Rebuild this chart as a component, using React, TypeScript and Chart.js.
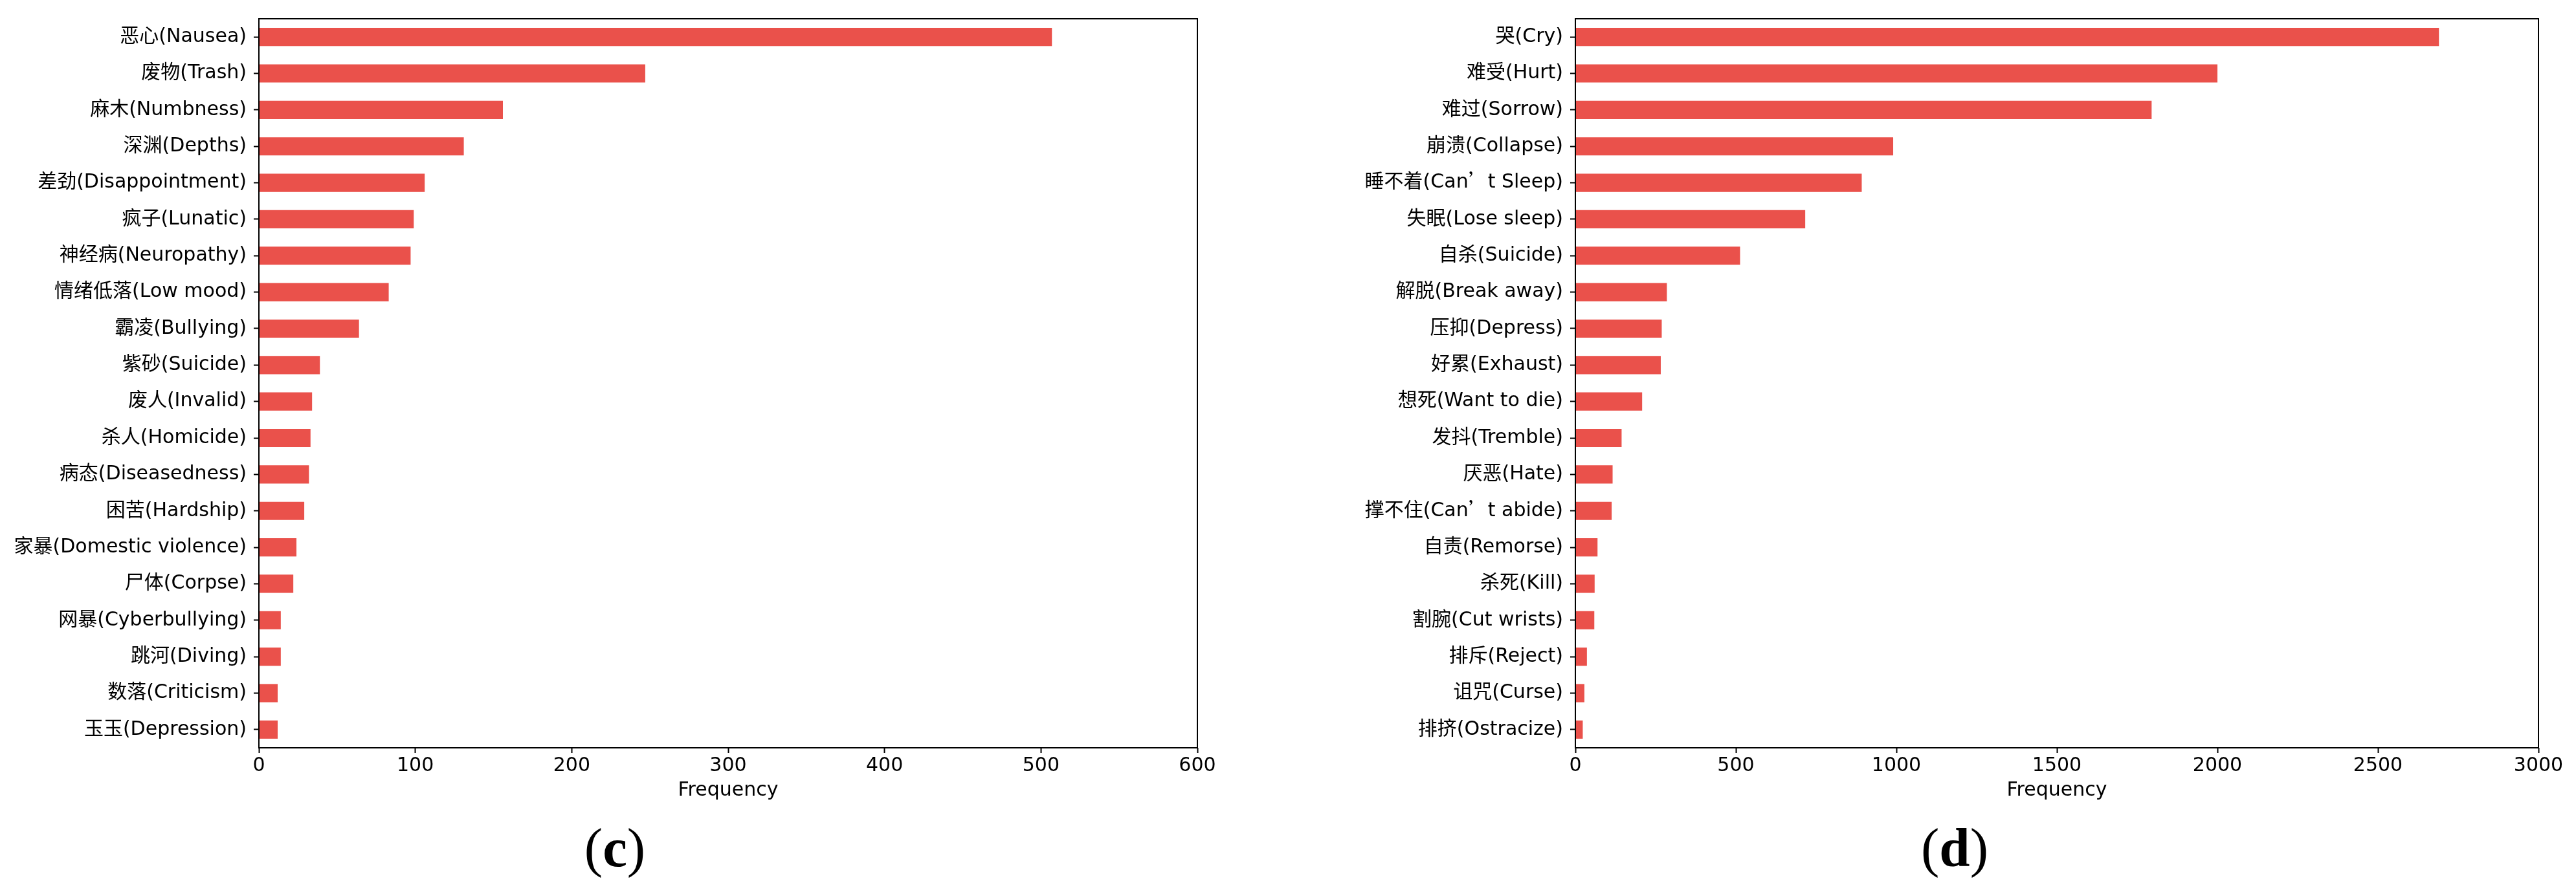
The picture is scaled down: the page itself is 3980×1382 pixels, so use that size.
import React, { useEffect, useRef } from "react";
import { Chart, registerables } from "chart.js";

Chart.register(...registerables);

// ---------- data ----------
const leftCategories = [
  "恶心(Nausea)",
  "废物(Trash)",
  "麻木(Numbness)",
  "深渊(Depths)",
  "差劲(Disappointment)",
  "疯子(Lunatic)",
  "神经病(Neuropathy)",
  "情绪低落(Low mood)",
  "霸凌(Bullying)",
  "紫砂(Suicide)",
  "废人(Invalid)",
  "杀人(Homicide)",
  "病态(Diseasedness)",
  "困苦(Hardship)",
  "家暴(Domestic violence)",
  "尸体(Corpse)",
  "网暴(Cyberbullying)",
  "跳河(Diving)",
  "数落(Criticism)",
  "玉玉(Depression)",
];
const leftValues = [507, 247, 156, 131, 106, 99, 97, 83, 64, 39, 34, 33, 32, 29, 24, 22, 14, 14, 12, 12];
const leftAxisMax = 600;
const leftAxisStep = 100;

const rightCategories = [
  "哭(Cry)",
  "难受(Hurt)",
  "难过(Sorrow)",
  "崩溃(Collapse)",
  "睡不着(Can’t Sleep)",
  "失眠(Lose sleep)",
  "自杀(Suicide)",
  "解脱(Break away)",
  "压抑(Depress)",
  "好累(Exhaust)",
  "想死(Want to die)",
  "发抖(Tremble)",
  "厌恶(Hate)",
  "撑不住(Can’t abide)",
  "自责(Remorse)",
  "杀死(Kill)",
  "割腕(Cut wrists)",
  "排斥(Reject)",
  "诅咒(Curse)",
  "排挤(Ostracize)",
];
const rightValues = [2690, 2000, 1795, 990, 892, 716, 513, 285, 269, 266, 208, 144, 116, 113, 69, 60, 59, 36, 28, 23];
const rightAxisMax = 3000;
const rightAxisStep = 500;

const axisTitle = "Frequency";
const captions = ["c", "d"];

// ---------- style ----------
const BAR_COLOR = "rgb(234,81,75)";
const FONT_FAMILY = '"QuoteCJK", "DejaVu Sans", "Noto Sans CJK SC", sans-serif';
const FONT_SIZE = 30;
const CANVAS_W = 1990;
const CANVAS_H = 1382;

const framePlugin = {
  id: "frame",
  afterDraw(chart: any) {
    const { ctx, chartArea } = chart;
    ctx.save();
    ctx.strokeStyle = "#000";
    ctx.lineWidth = 2;
    ctx.strokeRect(chartArea.left, chartArea.top, chartArea.right - chartArea.left, chartArea.bottom - chartArea.top);
    ctx.restore();
  },
};

function makeConfig(labels: string[], values: number[], max: number, step: number, yWidth: number, padRight: number) {
  const font = { family: FONT_FAMILY, size: FONT_SIZE };
  return {
    type: "bar",
    data: {
      labels,
      datasets: [
        {
          data: values,
          backgroundColor: BAR_COLOR,
          borderWidth: 0,
          categoryPercentage: 0.5,
          barPercentage: 1.0,
        },
      ],
    },
    options: {
      indexAxis: "y",
      responsive: false,
      maintainAspectRatio: false,
      animation: false,
      devicePixelRatio: 1,
      layout: { padding: { left: 0, top: 22, right: padRight, bottom: 0 } },
      plugins: {
        legend: { display: false },
        tooltip: { enabled: false },
      },
      scales: {
        x: {
          type: "linear",
          min: 0,
          max,
          ticks: {
            stepSize: step,
            color: "#000",
            font,
            padding: 2,
            maxRotation: 0,
            callback: (v: any) => String(v),
          },
          grid: {
            drawOnChartArea: false,
            drawTicks: true,
            tickLength: 8,
            tickColor: "#000",
            tickWidth: 2,
          },
          border: { display: false },
          title: {
            display: true,
            text: axisTitle,
            color: "#000",
            font,
            padding: { top: 0, bottom: 142 },
          },
          afterFit: (s: any) => {
            s.height = 226;
          },
        },
        y: {
          type: "category",
          offset: true,
          ticks: { color: "#000", font, padding: 11, autoSkip: false },
          grid: {
            offset: false,
            drawOnChartArea: false,
            drawTicks: true,
            tickLength: 8,
            tickColor: "#000",
            tickWidth: 2,
          },
          border: { display: false },
          afterFit: (s: any) => {
            s.width = yWidth;
          },
        },
      },
    },
    plugins: [framePlugin],
  } as any;
}

export default function App() {
  const leftRef = useRef<HTMLCanvasElement>(null);
  const rightRef = useRef<HTMLCanvasElement>(null);

  useEffect(() => {
    let cancelled = false;
    const charts: Chart[] = [];
    const style = document.createElement("style");
    style.textContent =
      '@font-face{font-family:"QuoteCJK";src:local("Noto Sans CJK SC Regular"),local("NotoSansCJKsc-Regular"),local("Noto Sans CJK SC");unicode-range:U+2018-2019;}';
    document.head.appendChild(style);

    const build = () => {
      if (cancelled || !leftRef.current || !rightRef.current) return;
      charts.push(
        new Chart(leftRef.current, makeConfig(leftCategories, leftValues, leftAxisMax, leftAxisStep, 400, 140))
      );
      charts.push(
        new Chart(rightRef.current, makeConfig(rightCategories, rightValues, rightAxisMax, rightAxisStep, 444, 58))
      );
    };
    const timeout = new Promise((r) => setTimeout(r, 1500));
    Promise.race([
      Promise.all([
        document.fonts.load(`${FONT_SIZE}px "QuoteCJK"`, "’"),
        document.fonts.load(`${FONT_SIZE}px "DejaVu Sans"`, "A"),
        document.fonts.load(`${FONT_SIZE}px "Noto Sans CJK SC"`, "恶"),
      ]),
      timeout,
    ]).then(build, build);

    return () => {
      cancelled = true;
      charts.forEach((c) => c.destroy());
      style.remove();
    };
  }, []);

  const captionStyle = (centerX: number): React.CSSProperties => ({
    position: "absolute",
    left: centerX - 200,
    top: 1268,
    width: 400,
    textAlign: "center",
    fontFamily: '"Liberation Serif", "Times New Roman", serif',
    fontSize: 85,
    lineHeight: 1,
    color: "#000",
  });

  return (
    <div
      style={{
        position: "absolute",
        left: 0,
        top: 0,
        width: 3980,
        height: 1382,
        background: "#fff",
        overflow: "hidden",
      }}
    >
      <canvas
        ref={leftRef}
        width={CANVAS_W}
        height={CANVAS_H}
        style={{ position: "absolute", left: 0, top: 0, width: CANVAS_W, height: CANVAS_H }}
      />
      <canvas
        ref={rightRef}
        width={CANVAS_W}
        height={CANVAS_H}
        style={{ position: "absolute", left: 1990, top: 0, width: CANVAS_W, height: CANVAS_H }}
      />
      <div style={captionStyle(950)}>
        (<b>{captions[0]}</b>)
      </div>
      <div style={captionStyle(3020)}>
        (<b>{captions[1]}</b>)
      </div>
    </div>
  );
}
